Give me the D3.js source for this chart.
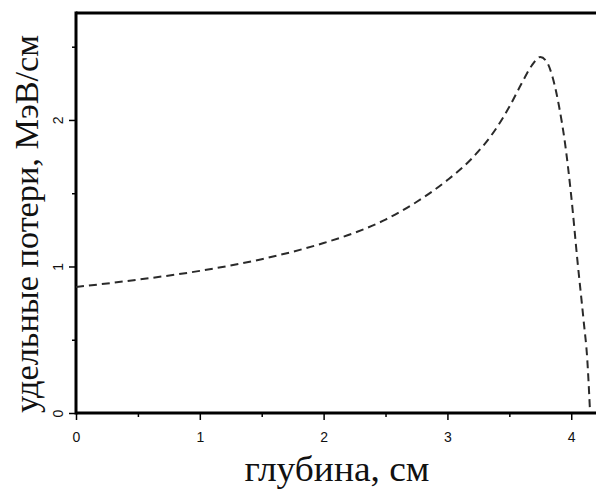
<!DOCTYPE html>
<html>
<head>
<meta charset="utf-8">
<script src="https://cdn.jsdelivr.net/npm/d3@7"></script>
<style>
  body { margin: 0; background: #fff; }
  svg { display: block; }
</style>
</head>
<body>
<div id="chart"></div>
<script>
const WIDTH = 596
const HEIGHT = 490

// depth, cm
const depth = [0, 0.5, 1.0, 1.5, 2.0, 2.25, 2.5, 2.75, 3.0, 3.2, 3.4, 3.5, 3.6, 3.68, 3.75,
  3.8, 3.85, 3.9, 3.95, 4.0, 4.05, 4.1, 4.13, 4.15]
// specific energy loss, MeV/cm
const loss = [0.86, 0.91, 0.97, 1.05, 1.16, 1.23, 1.32, 1.44, 1.59, 1.74, 1.95, 2.09, 2.25, 2.37, 2.43,
  2.4, 2.29, 2.1, 1.84, 1.48, 1.04, 0.63, 0.36, 0.04]

const xTicks = [0, 1, 2, 3, 4]
const xMinor = [0.5, 1.5, 2.5, 3.5]
const yTicks = [0, 1, 2]
const yMinor = [0.5, 1.5, 2.5]

const xLabel = 'глубина, см'
const yLabel = 'удельные потери, МэВ/см'

const margin = { top: 13, right: 0, bottom: 77, left: 76 }

const x = d3.scaleLinear().domain([0, 4.2]).range([margin.left, WIDTH - margin.right])
const y = d3.scaleLinear().domain([0, 2.73]).range([HEIGHT - margin.bottom, margin.top])

const svg = d3.select('#chart').append('svg')
  .attr('width', WIDTH)
  .attr('height', HEIGHT)

const tickFont = '"Liberation Sans", Arial, sans-serif'
const titleFont = '"Liberation Serif", "Times New Roman", serif'

// minor ticks
svg.append('g')
  .attr('transform', `translate(0,${y(0)})`)
  .call(d3.axisBottom(x).tickValues(xMinor).tickSize(4).tickFormat(''))
  .call(g => g.select('.domain').remove())
  .call(g => g.selectAll('line').attr('stroke-width', 1.5))

svg.append('g')
  .attr('transform', `translate(${x(0)},0)`)
  .call(d3.axisLeft(y).tickValues(yMinor).tickSize(4).tickFormat(''))
  .call(g => g.select('.domain').remove())
  .call(g => g.selectAll('line').attr('stroke-width', 1.5))

// major ticks
svg.append('g')
  .attr('transform', `translate(0,${y(0)})`)
  .call(d3.axisBottom(x).tickValues(xTicks).tickSize(7).tickPadding(12).tickFormat(d3.format('d')))
  .call(g => g.select('.domain').remove())
  .call(g => g.selectAll('line').attr('stroke-width', 1.5))
  .call(g => g.selectAll('text')
    .attr('font-family', tickFont)
    .attr('font-size', 14)
    .attr('fill', '#111'))

svg.append('g')
  .attr('transform', `translate(${x(0)},0)`)
  .call(d3.axisLeft(y).tickValues(yTicks).tickSize(7).tickFormat(d3.format('d')))
  .call(g => g.select('.domain').remove())
  .call(g => g.selectAll('line').attr('stroke-width', 1.5))
  .call(g => g.selectAll('text')
    .attr('x', 0)
    .attr('dy', 0)
    .attr('text-anchor', 'middle')
    .attr('transform', 'translate(-13,0) rotate(-90)')
    .attr('font-family', tickFont)
    .attr('font-size', 14)
    .attr('fill', '#111'))

// frame: left, bottom, top (right side runs off the picture)
const frame = svg.append('g').attr('stroke', '#000').attr('stroke-width', 3).attr('fill', 'none')
frame.append('line').attr('x1', x(0)).attr('x2', x(0)).attr('y1', y.range()[1] - 1.5).attr('y2', y(0) + 1.5)
frame.append('line').attr('x1', x(0)).attr('x2', WIDTH).attr('y1', y(0)).attr('y2', y(0))
frame.append('line').attr('x1', x(0)).attr('x2', WIDTH).attr('y1', y.range()[1]).attr('y2', y.range()[1])

// curve
const line = d3.line()
  .x((d, i) => x(depth[i]))
  .y(d => y(d))
  .curve(d3.curveMonotoneX)

svg.append('path')
  .datum(loss)
  .attr('d', line)
  .attr('fill', 'none')
  .attr('stroke', '#2a2a2a')
  .attr('stroke-width', 2)
  .attr('stroke-dasharray', '8,5')

// axis titles
svg.append('text')
  .attr('x', 337)
  .attr('y', 481)
  .attr('text-anchor', 'middle')
  .attr('font-family', titleFont)
  .attr('font-size', 36)
  .attr('textLength', 185)
  .attr('lengthAdjust', 'spacingAndGlyphs')
  .attr('fill', '#111')
  .text(xLabel)

svg.append('text')
  .attr('transform', 'translate(38,224) rotate(-90)')
  .attr('text-anchor', 'middle')
  .attr('font-family', titleFont)
  .attr('font-size', 34)
  .attr('textLength', 378)
  .attr('lengthAdjust', 'spacingAndGlyphs')
  .attr('fill', '#111')
  .text(yLabel)
</script>
</body>
</html>
